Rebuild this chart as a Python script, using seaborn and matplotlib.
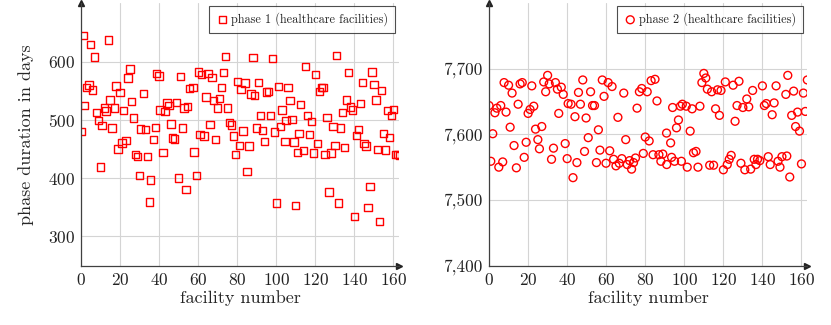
import matplotlib
matplotlib.use("Agg")
import matplotlib.pyplot as plt
from matplotlib.ticker import FuncFormatter
import seaborn as sns

# phase 1 (healthcare facilities): facility number, duration in days
phase1_x = [0, 1, 1.7, 2.7, 4, 5, 5.8, 7, 8, 9, 9.9, 10.8, 12, 12.8, 14, 14.9, 15.9, 17, 18, 19,
            20, 21, 21.7, 23, 24, 25, 26, 26.8, 28, 29, 30, 30.6, 32, 33, 34, 35, 35.7, 37, 38, 38.8,
            40, 40.5, 42, 43, 44, 45, 46, 47, 48, 49, 50, 51, 52, 52.8, 53.7, 54.5, 55.5, 57.3, 57.9, 59,
            60, 61, 61.7, 63, 64, 65, 66, 67, 68, 69, 70, 71, 72, 73, 74, 75, 76, 77, 78, 79,
            80, 81, 82, 83, 84, 85, 86, 87, 88, 89, 90, 91, 92, 93, 94, 94.9, 96, 97, 98, 99,
            100, 101, 102, 103, 104.5, 105, 106, 107, 108, 109, 110, 111, 111.6, 112.5, 114, 115, 116, 117, 118, 119,
            120, 121, 122, 123, 124, 125, 126, 127, 128, 129, 130, 131, 132, 133, 134, 135, 136, 137, 138, 139,
            140, 141, 142, 143, 144, 145, 146, 147, 148, 149, 150, 151, 152, 153, 154, 155, 156, 157, 158, 159,
            160, 161, 162, 163]
phase1_y = [480, 645, 525, 556, 560, 629, 551, 608, 512, 499, 419, 490, 520, 515, 637, 534, 486, 520, 558, 450,
            547, 460, 516, 464, 572, 587, 531, 503, 441, 437, 405, 484, 545, 483, 437, 359, 397, 466, 487, 580,
            575, 517, 444, 514, 529, 525, 493, 469, 467, 530, 400, 574, 486, 520, 380, 523, 554, 556, 445, 405,
            582, 475, 578, 472, 539, 580, 492, 573, 533, 466, 520, 537, 556, 581, 609, 520, 495, 491, 472, 441,
            566, 456, 552, 481, 563, 411, 455, 544, 607, 542, 486, 564, 507, 482, 463, 548, 549, 507, 605, 479,
            357, 557, 488, 517, 463, 499, 555, 533, 501, 462, 353, 444, 477, 526, 447, 592, 507, 475, 497, 443,
            578, 459, 549, 555, 556, 441, 504, 376, 443, 489, 456, 610, 357, 486, 513, 453, 534, 581, 522, 517,
            334, 473, 483, 528, 564, 459, 455, 349, 386, 582, 561, 534, 449, 326, 550, 477, 448, 516, 470, 507,
            518, 441, 441, 439]

# phase 2 (healthcare facilities)
phase2_x = [0, 0.9, 1.9, 3, 4, 5, 6, 7, 7.7, 8.7, 10, 10.8, 11.8, 12.8, 14, 14.9, 15.9, 17, 18, 19,
            20, 21, 21.9, 22.9, 23.8, 25, 25.8, 27, 28, 29, 30, 30.8, 32, 33, 34, 35, 35.7, 37, 38, 39,
            40, 40.5, 42, 43, 44, 45, 45.8, 46.8, 48, 48.9, 49.7, 50.8, 52, 53, 54, 55, 56, 56.8, 58, 58.9,
            59.9, 61, 61.8, 63, 63.8, 65, 66, 66.7, 68, 69, 70, 70.8, 72, 73, 74, 75, 75.8, 77, 78.2, 79,
            80, 81, 82, 83, 84, 85, 86, 87, 88, 89, 90.9, 91, 93, 93.5, 94, 95, 96, 97, 98, 98.5,
            99, 101, 101.5, 103, 104, 104.7, 106, 107, 108, 109, 110, 111, 111.8, 113, 114, 115, 116, 117, 118, 118.8,
            120, 121, 122, 123, 124, 125, 126, 127, 128, 129, 130, 131, 132, 133, 134, 135, 135.8, 136.7, 137.5, 138.7,
            140, 141, 142, 143, 144, 145, 146, 147, 148, 149, 150, 152, 152.5, 153, 154, 155, 156, 157, 158, 159,
            160, 161, 162, 163]
phase2_y = [7644, 7559, 7601, 7633, 7640, 7550, 7644, 7558, 7679, 7634, 7675, 7611, 7663, 7583, 7549, 7646, 7677, 7679, 7565, 7588,
            7632, 7638, 7674, 7643, 7608, 7592, 7578, 7612, 7680, 7665, 7690, 7677, 7562, 7579, 7679, 7669, 7632, 7672, 7661, 7586,
            7563, 7647, 7646, 7534, 7627, 7557, 7664, 7646, 7683, 7574, 7625, 7595, 7665, 7644, 7644, 7557, 7607, 7576, 7683, 7658,
            7556, 7679, 7575, 7673, 7562, 7552, 7626, 7556, 7563, 7663, 7592, 7554, 7560, 7547, 7557, 7564, 7640, 7665, 7670, 7571,
            7596, 7665, 7590, 7682, 7569, 7684, 7651, 7569, 7559, 7570, 7602, 7554, 7587, 7565, 7641, 7559, 7610, 7622, 7643, 7559,
            7646, 7643, 7550, 7605, 7639, 7572, 7574, 7550, 7643, 7679, 7693, 7686, 7669, 7553, 7665, 7553, 7639, 7668, 7629, 7667,
            7546, 7680, 7554, 7562, 7568, 7675, 7620, 7644, 7681, 7556, 7641, 7546, 7654, 7642, 7547, 7667, 7562, 7554, 7562, 7560,
            7674, 7644, 7647, 7566, 7554, 7630, 7648, 7674, 7559, 7550, 7566, 7661, 7567, 7690, 7535, 7629, 7666, 7612, 7634, 7605,
            7555, 7663, 7635, 7683]

x_ticks = [0, 20, 40, 60, 80, 100, 120, 140, 160]
y1_ticks = [300, 400, 500, 600]
y2_ticks = [7400, 7500, 7600, 7700]

sns.set_style("white")
plt.rcParams["font.family"] = ["cmr10", "DejaVu Serif"]
plt.rcParams["axes.formatter.use_mathtext"] = True

fig = plt.figure(figsize=(8.31, 3.25), dpi=100)
ax1 = fig.add_axes([0.0975, 0.183, 0.383, 0.807])
ax2 = fig.add_axes([0.5885, 0.183, 0.383, 0.807])


def style_axis(ax, yticks, ylim):
    coll = ax.collections[0]
    coll.set_facecolor("none")
    coll.set_edgecolor("red")
    coll.set_linewidth(1.0)
    ax.set_xlim(0, 163)
    ax.set_ylim(*ylim)
    ax.set_xticks(x_ticks)
    ax.set_yticks(yticks)
    ax.grid(True, color="#d4d4d4", linewidth=0.8)
    ax.set_axisbelow(True)
    for side in ["top", "right"]:
        ax.spines[side].set_visible(False)
    for side in ["left", "bottom"]:
        ax.spines[side].set_color("#404040")
        ax.spines[side].set_linewidth(0.9)
    ax.tick_params(axis="both", labelsize=12.5, length=3, width=0.6, color="#808080",
                   direction="inout", pad=3, labelcolor="#222222")
    # arrow heads at the axis ends
    ax.plot(1.0, 0, marker=">", color="#222222", ms=4, transform=ax.transAxes, clip_on=False)
    ax.plot(0, 1.0, marker="^", color="#222222", ms=4, transform=ax.transAxes, clip_on=False)
    ax.set_xlabel("facility number", fontsize=13, labelpad=2)
    ax.set_ylabel("")
    leg = ax.legend(loc="upper right", bbox_to_anchor=(0.985, 0.99), fontsize=8.8,
                    frameon=True, fancybox=False, borderpad=0.55, handletextpad=0.2,
                    handlelength=1.0, borderaxespad=0)
    leg.get_frame().set_edgecolor("#222222")
    leg.get_frame().set_linewidth(0.8)


sns.scatterplot(x=phase1_x, y=phase1_y, marker="s", s=28, color="red",
                label="phase 1 (healthcare facilities)", ax=ax1)
style_axis(ax1, y1_ticks, (250, 700))
ax1.set_ylabel("phase duration in days", fontsize=13, labelpad=10)

sns.scatterplot(x=phase2_x, y=phase2_y, marker="o", s=32, color="red",
                label="phase 2 (healthcare facilities)", ax=ax2)
style_axis(ax2, y2_ticks, (7400, 7800))
ax2.yaxis.set_major_formatter(FuncFormatter(lambda v, p: f"{v:,.0f}"))

fig.savefig("out.png", dpi=100)
